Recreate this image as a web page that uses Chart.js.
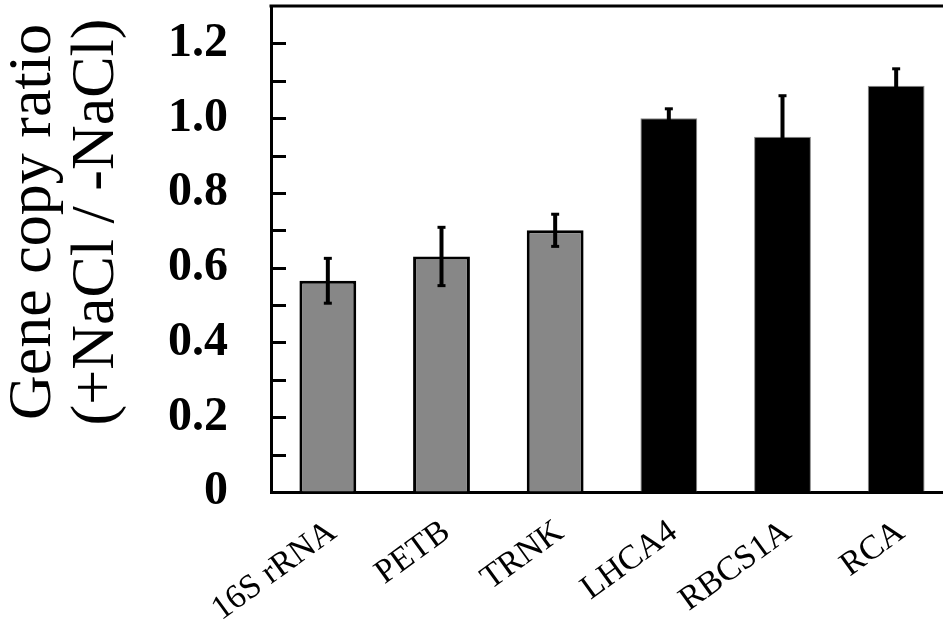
<!DOCTYPE html>
<html>
<head>
<meta charset="utf-8">
<script src="https://cdn.jsdelivr.net/npm/chart.js@4.4.1/dist/chart.umd.min.js"></script>
<style>
  html, body { margin: 0; padding: 0; background: #fff; overflow: hidden; }
  #wrap { position: relative; width: 970px; height: 625px; }
</style>
</head>
<body>
<div id="wrap"><canvas id="chart"></canvas></div>
<script>
// --- DATA ---
const genes = ['16S rRNA', 'PETB', 'TRNK', 'LHCA4', 'RBCS1A', 'RCA'];
const ratios = [0.565, 0.63, 0.70, 1.00, 0.95, 1.087];
const errors = [0.06, 0.078, 0.043, 0.025, 0.11, 0.045];
const barColors = ['#878787', '#878787', '#878787', '#000000', '#000000', '#000000'];
const yTitle = ['Gene copy ratio', '(+NaCl / -NaCl)'];

const SERIF = '"Liberation Serif", "Times New Roman", serif';

// --- PLUGINS ---
const framePlugin = {
    id: 'frame',
    afterDatasetsDraw(chart) {
        const { ctx, chartArea: a, scales: { y } } = chart;
        ctx.save();
        ctx.strokeStyle = '#000';
        ctx.lineWidth = 3;
        // top border
        ctx.beginPath();
        ctx.moveTo(a.left - 1.5, a.top);
        ctx.lineTo(a.right, a.top);
        ctx.stroke();
        // inward ticks every 0.1
        for (let k = 1; k <= 12; k++) {
            const py = Math.round(y.getPixelForValue(k / 10)) + 0.5;
            ctx.beginPath();
            ctx.moveTo(a.left, py);
            ctx.lineTo(a.left + 15, py);
            ctx.stroke();
        }
        ctx.restore();
    }
};

const errorBarPlugin = {
    id: 'errorBars',
    afterDatasetsDraw(chart) {
        const { ctx, scales: { y } } = chart;
        const meta = chart.getDatasetMeta(0);
        ctx.save();
        ctx.strokeStyle = '#000';
        meta.data.forEach((bar, i) => {
            const top = y.getPixelForValue(ratios[i] + errors[i]);
            const bot = y.getPixelForValue(ratios[i] - errors[i]);
            ctx.lineWidth = 4;
            ctx.beginPath();
            ctx.moveTo(bar.x, top);
            ctx.lineTo(bar.x, bot);
            ctx.stroke();
            ctx.lineWidth = 3;
            [top, bot].forEach(py => {
                ctx.beginPath();
                ctx.moveTo(bar.x - 4, py);
                ctx.lineTo(bar.x + 4, py);
                ctx.stroke();
            });
        });
        ctx.restore();
    }
};

const yTitlePlugin = {
    id: 'yTitle',
    afterDraw(chart) {
        const { ctx } = chart;
        ctx.save();
        ctx.fillStyle = '#000';
        ctx.font = '62px ' + SERIF;
        ctx.textAlign = 'center';
        ctx.textBaseline = 'middle';
        const xs = [34, 97];
        yTitle.forEach((t, i) => {
            ctx.save();
            ctx.translate(xs[i], 222);
            ctx.rotate(-Math.PI / 2);
            ctx.fillText(t, 0, 0);
            ctx.restore();
        });
        ctx.restore();
    }
};

// --- CHART ---
new Chart(document.getElementById('chart'), {
    type: 'bar',
    data: {
        labels: genes,
        datasets: [{
            data: ratios,
            backgroundColor: barColors,
            borderColor: ['#000', '#000', '#000', '#888', '#888', '#888'],
            borderWidth: [3, 3, 3, 1, 1, 1],
            barPercentage: 0.5,
            categoryPercentage: 1.0
        }]
    },
    options: {
        responsive: true,
        maintainAspectRatio: false,
        animation: false,
        layout: { padding: { top: 6, right: 17, bottom: 0, left: 0 } },
        plugins: { legend: { display: false }, tooltip: { enabled: false } },
        scales: {
            x: {
                grid: { display: false, drawTicks: false },
                border: { display: true, color: '#000', width: 3 },
                ticks: {
                    color: '#000',
                    font: { family: SERIF, size: 34 },
                    minRotation: 36,
                    maxRotation: 36,
                    autoSkip: false,
                    padding: 20,
                    labelOffset: 5
                },
                afterFit(scale) { scale.height = 133; }
            },
            y: {
                min: 0,
                max: 1.3,
                grid: {
                    display: true,
                    drawOnChartArea: false,
                    drawTicks: true,
                    tickLength: 43,
                    color: 'rgba(0,0,0,0)'
                },
                border: { display: true, color: '#000', width: 3 },
                ticks: {
                    stepSize: 0.1,
                    color: '#000',
                    padding: 0,
                    font: { family: SERIF, size: 48, weight: 'bold' },
                    callback(v) {
                        const k = Math.round(v * 10);
                        if (k % 2 !== 0 || k > 12) return null;
                        return k === 0 ? '0' : (k / 10).toFixed(1);
                    }
                },
                afterFit(scale) {
                    scale.width = 271;
                    scale.paddingTop = 0;
                    scale.paddingBottom = 0;
                }
            }
        }
    },
    plugins: [framePlugin, errorBarPlugin, yTitlePlugin]
});
</script>
</body>
</html>
